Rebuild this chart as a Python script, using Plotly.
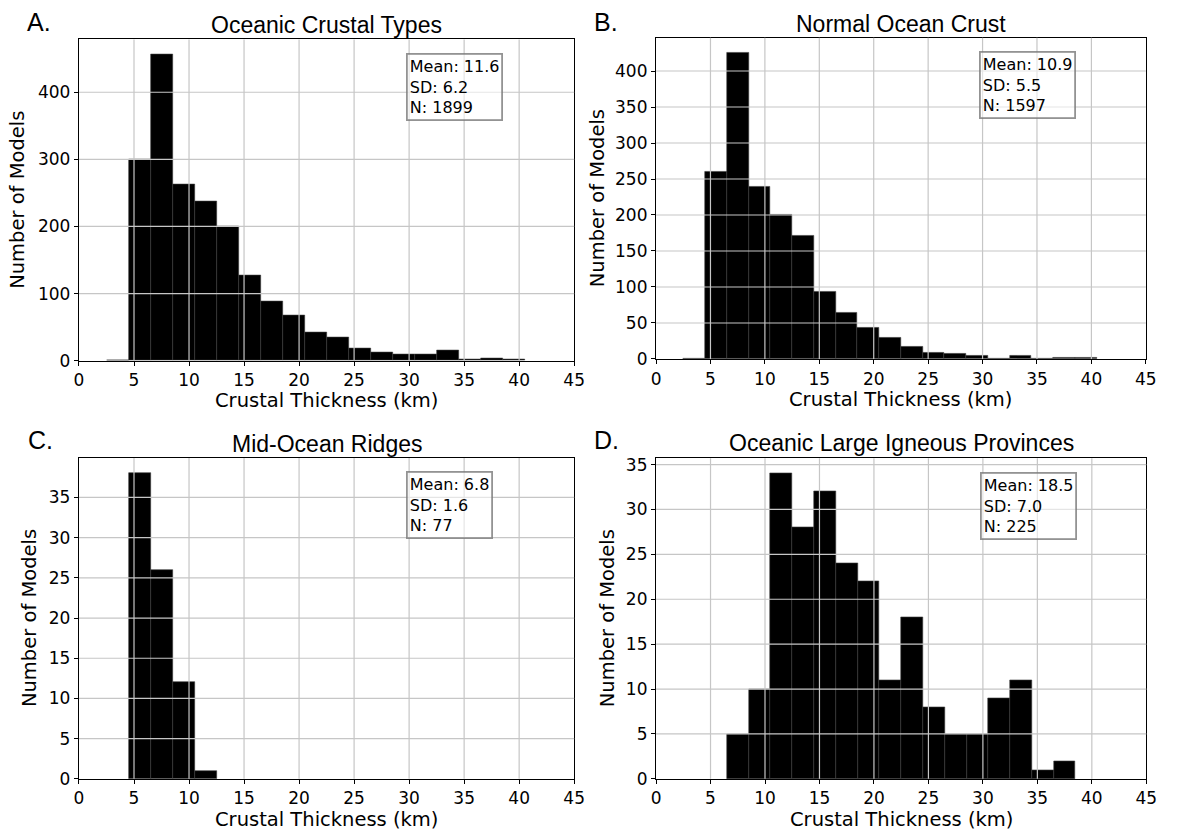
import plotly.graph_objects as go

W, H = 1180, 839
BIN_WIDTH = 2.0

# Histogram counts per 2-km crustal-thickness bin (left edges in km)
all_left = [2.5, 4.5, 6.5, 8.5, 10.5, 12.5, 14.5, 16.5, 18.5, 20.5,
            22.5, 24.5, 26.5, 28.5, 30.5, 32.5, 34.5, 36.5, 38.5]
all_counts = [1, 300, 456, 262, 237, 200, 127, 89, 67, 42,
              35, 18, 13, 10, 10, 16, 2, 4, 2]

normal_left = [2.5, 4.5, 6.5, 8.5, 10.5, 12.5, 14.5, 16.5, 18.5, 20.5,
               22.5, 24.5, 26.5, 28.5, 30.5, 32.5, 34.5, 36.5, 38.5]
normal_counts = [1, 260, 425, 239, 201, 171, 94, 64, 44, 30,
                 17, 9, 7, 5, 1, 5, 1, 2, 2]

ridge_left = [4.5, 6.5, 8.5, 10.5]
ridge_counts = [38, 26, 12, 1]

lip_left = [6.5, 8.5, 10.5, 12.5, 14.5, 16.5, 18.5, 20.5,
            22.5, 24.5, 26.5, 28.5, 30.5, 32.5, 34.5, 36.5]
lip_counts = [5, 10, 34, 28, 32, 24, 22, 11, 18, 8, 5, 5, 9, 11, 1, 2]

titles = ["Oceanic Crustal Types", "Normal Ocean Crust",
          "Mid-Ocean Ridges", "Oceanic Large Igneous Provinces"]
letters = ["A.", "B.", "C.", "D."]
means = [11.6, 10.9, 6.8, 18.5]
sds = [6.2, 5.5, 1.6, 7.0]
ns = [1899, 1597, 77, 225]
y_ticks = [[0, 100, 200, 300, 400],
           [0, 50, 100, 150, 200, 250, 300, 350, 400],
           [0, 5, 10, 15, 20, 25, 30, 35],
           [0, 5, 10, 15, 20, 25, 30, 35]]
x_ticks = [0, 5, 10, 15, 20, 25, 30, 35, 40, 45]

panels = [(all_left, all_counts), (normal_left, normal_counts),
          (ridge_left, ridge_counts), (lip_left, lip_counts)]

# Axes rectangles in pixels: (left, top, right, bottom)
axes_px = [(75, 36, 577, 362.7), (660, 34.3, 1156.5, 361),
           (75, 461.7, 577, 788), (660, 462, 1157, 788)]
# Top-left corner of each statistics box
stat_px = [(407, 50), (987, 48), (407, 475), (988, 476)]
title_y = [21, 20, 447, 446]
letter_pos = [(20, 18), (595, 18), (21, 443), (595, 443)]
ylabel_x = [12, 600, 25, 611]
xlabel_y = [403.5, 402.5, 829, 829]


def px(x):
    return x / W


def py(y):
    return 1 - y / H


DV = "DejaVu Sans"
AR = "Liberation Sans, Arial"
GRID = "#c6c6c6"

fig = go.Figure()
annotations = []
shapes = []

for i, ((left, counts), (l, t, r, b)) in enumerate(zip(panels, axes_px)):
    sfx = "" if i == 0 else str(i + 1)
    xa, ya = "x" + sfx, "y" + sfx
    centers = [e + BIN_WIDTH / 2 for e in left]
    fig.add_trace(go.Bar(
        x=centers, y=counts, width=BIN_WIDTH,
        marker=dict(color="black", line=dict(color="#3a3a3a", width=0.6)),
        xaxis=xa, yaxis=ya, showlegend=False, hoverinfo="x+y",
    ))
    y_top = max(counts) * 1.05
    common = dict(
        showgrid=False,
        showline=True, linecolor="black", linewidth=1.3, mirror=True,
        ticks="outside", ticklen=4, tickwidth=1.2, tickcolor="black",
        tickfont=dict(family=DV, size=17, color="black"),
        zeroline=False, layer="above traces",
    )
    fig.update_layout(**{
        "xaxis" + sfx: dict(common, domain=[px(l), px(r)], range=[0, 45],
                            tickvals=x_ticks, anchor=ya),
        "yaxis" + sfx: dict(common, domain=[py(b), py(t)],
                            range=[0, y_top], tickvals=y_ticks[i],
                            anchor=xa),
    })

    # grid lines drawn over the bars
    for xv in x_ticks[1:-1]:
        shapes.append(dict(type="line", xref=xa, yref=ya + " domain",
                           x0=xv, x1=xv, y0=0, y1=1, layer="above",
                           line=dict(color=GRID, width=1.2)))
    for yv in y_ticks[i][1:]:
        shapes.append(dict(type="line", xref=xa + " domain", yref=ya,
                           x0=0, x1=1, y0=yv, y1=yv, layer="above",
                           line=dict(color=GRID, width=1.2)))

    cx = (l + r) / 2
    cy = (t + b) / 2
    annotations.append(dict(text=titles[i], x=px(cx), y=py(title_y[i]),
                            xref="paper", yref="paper", showarrow=False,
                            xanchor="center", yanchor="middle",
                            font=dict(family=AR, size=23, color="black")))
    lx, ly = letter_pos[i]
    annotations.append(dict(text=letters[i], x=px(lx), y=py(ly),
                            xref="paper", yref="paper", showarrow=False,
                            xanchor="left", yanchor="middle",
                            font=dict(family=AR, size=25, color="black")))
    annotations.append(dict(text="Crustal Thickness (km)", x=px(cx),
                            y=py(xlabel_y[i]), xref="paper", yref="paper",
                            showarrow=False, xanchor="center", yanchor="middle",
                            font=dict(family=DV, size=19.5, color="black")))
    annotations.append(dict(text="Number of Models", x=px(ylabel_x[i]),
                            y=py(cy), xref="paper", yref="paper",
                            showarrow=False, textangle=-90,
                            xanchor="center", yanchor="middle",
                            font=dict(family=DV, size=19.5, color="black")))

    # statistics box
    bx, by = stat_px[i]
    stats = (f"Mean: {means[i]:.1f}<br>SD: {sds[i]:.1f}<br>N: {ns[i]}")
    annotations.append(dict(text=stats, x=px(bx), y=py(by),
                            xref="paper", yref="paper", showarrow=False,
                            xanchor="left", yanchor="top", align="left",
                            bgcolor="rgba(255,255,255,0.55)",
                            bordercolor="rgba(120,120,120,0.8)",
                            borderwidth=1.8, borderpad=2,
                            font=dict(family=DV, size=16, color="black")))

fig.update_layout(
    width=W, height=H, margin=dict(l=0, r=0, t=0, b=0),
    paper_bgcolor="white", plot_bgcolor="white",
    bargap=0, annotations=annotations, shapes=shapes,
)

fig.write_html("out.html")
